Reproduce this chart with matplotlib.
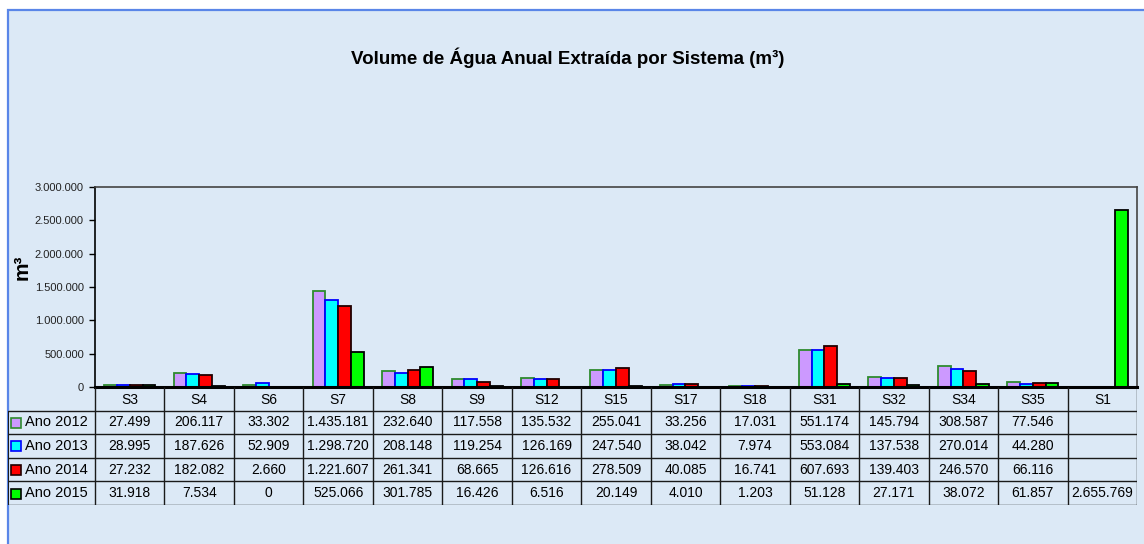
import matplotlib
matplotlib.use("Agg")
import matplotlib.pyplot as plt
from matplotlib.patches import Rectangle

# ---------------- data ----------------
systems = ["S3", "S4", "S6", "S7", "S8", "S9", "S12", "S15", "S17", "S18",
           "S31", "S32", "S34", "S35", "S1"]
series_names = ["Ano 2012", "Ano 2013", "Ano 2014", "Ano 2015"]
ano_2012 = [27499, 206117, 33302, 1435181, 232640, 117558, 135532, 255041,
            33256, 17031, 551174, 145794, 308587, 77546, None]
ano_2013 = [28995, 187626, 52909, 1298720, 208148, 119254, 126169, 247540,
            38042, 7974, 553084, 137538, 270014, 44280, None]
ano_2014 = [27232, 182082, 2660, 1221607, 261341, 68665, 126616, 278509,
            40085, 16741, 607693, 139403, 246570, 66116, None]
ano_2015 = [31918, 7534, 0, 525066, 301785, 16426, 6516, 20149,
            4010, 1203, 51128, 27171, 38072, 61857, 2655769]
yticks = [0, 500000, 1000000, 1500000, 2000000, 2500000, 3000000]
title = "Volume de Água Anual Extraída por Sistema (m³)"
ylabel = "m³"

series = [ano_2012, ano_2013, ano_2014, ano_2015]
face_colors = ["#cc99ff", "#00ffff", "#ff0000", "#00ff00"]
edge_colors = ["#2e8b2e", "#0000ff", "#200000", "#000000"]

W, H = 1144, 544
BG = "#dce9f6"
plt.rcParams["font.family"] = ["Liberation Sans", "DejaVu Sans"]


def fmt(v):
    if v is None:
        return ""
    return f"{v:,}".replace(",", ".")


def rect(x0, y0, x1, y1):
    return [x0 / W, 1 - y1 / H, (x1 - x0) / W, (y1 - y0) / H]


fig = plt.figure(figsize=(W / 100, H / 100), dpi=100)
fig.patch.set_facecolor("white")
fig.add_artist(Rectangle((8 / W, -0.2), 1.2, 1.2 - 9.5 / H, transform=fig.transFigure,
                         facecolor=BG, edgecolor="#5a86e8", linewidth=1.6, zorder=0))

# ---------------- chart ----------------
ax = fig.add_axes(rect(95, 187, 1137, 387))
ax.set_facecolor("none")
n = len(systems)
w = 0.184
offsets = [-1.5, -0.5, 0.5, 1.5]
for k, vals in enumerate(series):
    xs = [i + 0.5 + offsets[k] * w for i, v in enumerate(vals) if v is not None]
    hs = [v for v in vals if v is not None]
    ax.bar(xs, hs, width=w, color=face_colors[k], edgecolor=edge_colors[k],
           linewidth=1.3, zorder=3)
ax.set_xlim(0, n)
ax.set_ylim(0, 3000000)
ax.set_yticks(yticks)
ax.set_yticklabels([fmt(t) for t in yticks], fontsize=8, color="#222222")
ax.set_xticks([])
ax.tick_params(axis="y", direction="out", length=4, width=1, pad=4, color="#000000")
for s in ["top", "right"]:
    ax.spines[s].set_color("#444444")
    ax.spines[s].set_linewidth(1.2)
ax.spines["left"].set_color("#000000")
ax.spines["left"].set_linewidth(1.2)
ax.spines["bottom"].set_color("#000000")
ax.spines["bottom"].set_linewidth(2.2)
ax.spines["bottom"].set_zorder(5)

# ---------------- data table ----------------
lead = (95 - 8) / ((1137 - 95) / n)
tx = fig.add_axes(rect(8, 387, 1137, 505))
tx.set_xlim(-lead, n)
tx.set_ylim(5, 0)
tx.axis("off")
lc = "#1a1a1a"
for i in range(n + 1):
    tx.plot([i, i], [0, 5], color=lc, lw=1.0, solid_capstyle="butt")
tx.plot([-lead, -lead], [1, 5], color=lc, lw=1.4, solid_capstyle="butt")
for r in range(1, 6):
    tx.plot([-lead, n], [r, r], color=lc, lw=1.0, solid_capstyle="butt")
for i, s in enumerate(systems):
    tx.text(i + 0.5, 0.55, s, ha="center", va="center", fontsize=10, color="#000000")
for k, vals in enumerate(series):
    y = k + 1.5
    for i, v in enumerate(vals):
        tx.text(i + 0.5, y, fmt(v), ha="center", va="center", fontsize=10,
                color="#000000")
    tx.plot([-lead + 0.115], [y + 0.02], marker="s", markersize=6.5,
            markerfacecolor=face_colors[k], markeredgecolor=edge_colors[k],
            markeredgewidth=1.2, clip_on=False)
    tx.text(-lead + 0.25, y, series_names[k], ha="left", va="center",
            fontsize=10.5, color="#000000")

# ---------------- texts ----------------
fig.text(568 / W, 1 - 58 / H, title, ha="center", va="center",
         fontsize=13.5, fontweight="bold", color="#000000")
fig.text(22 / W, 1 - 267 / H, ylabel, ha="center", va="center", rotation=90,
         fontsize=15, fontweight="bold", color="#000000")

fig.savefig("out.png", dpi=100, facecolor=fig.get_facecolor())
